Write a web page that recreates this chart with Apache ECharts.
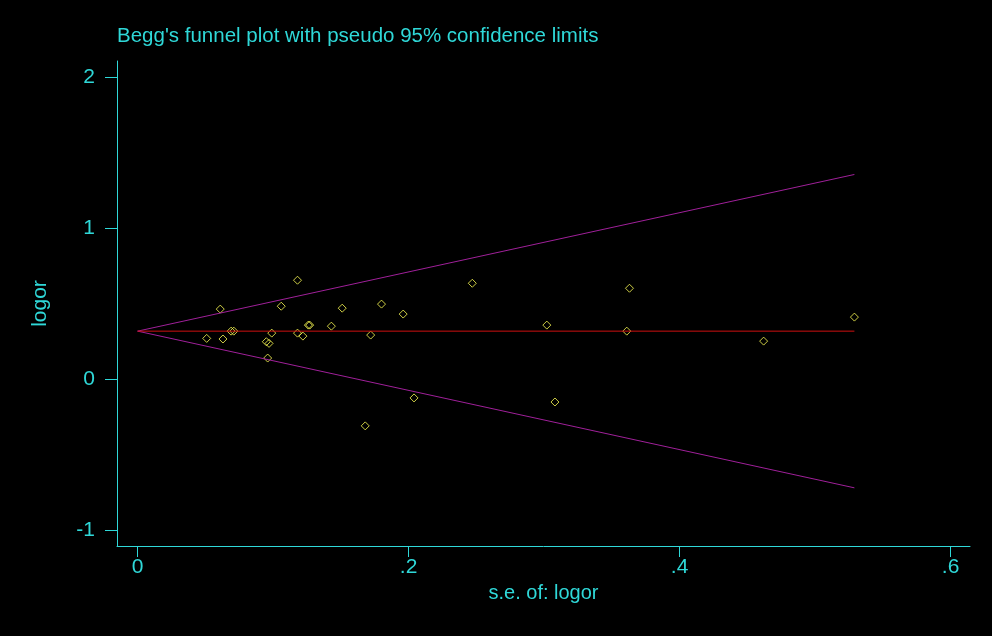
<!DOCTYPE html>
<html>
<head>
<meta charset="utf-8">
<script src="https://cdn.jsdelivr.net/npm/echarts@6/dist/echarts.min.js"></script>
<style>
html,body{margin:0;padding:0;background:#000;}
#chart{width:992px;height:636px;}
</style>
</head>
<body>
<div id="chart"></div>
<script>
// standard error of logor (x) and logor (y)
var seVals = [0.051, 0.061, 0.063, 0.069, 0.071, 0.095, 0.097, 0.096, 0.099, 0.106,
              0.118, 0.118, 0.122, 0.126, 0.127, 0.143, 0.151, 0.168, 0.172, 0.180,
              0.196, 0.204, 0.247, 0.302, 0.308, 0.361, 0.363, 0.462, 0.529];
var logorVals = [0.272, 0.466, 0.268, 0.320, 0.320, 0.250, 0.239, 0.142, 0.307, 0.485,
                 0.657, 0.307, 0.287, 0.360, 0.360, 0.353, 0.472, -0.307, 0.294, 0.499,
                 0.433, -0.122, 0.637, 0.360, -0.149, 0.320, 0.604, 0.254, 0.413];
// pooled estimate and pseudo 95% limits (end points)
var pooledX = [0, 0.529];
var pooledY = [0.32, 0.32];
var upperY = [0.32, 1.357];
var lowerY = [0.32, -0.717];
var xTicks = [0, 0.2, 0.4, 0.6];
var yTicks = [-1, 0, 1, 2];

var cyan = '#2fd8d8';
var dom = document.getElementById('chart');
var myChart = echarts.init(dom);

var pts = [];
for (var i = 0; i < seVals.length; i++) pts.push([seVals[i], logorVals[i]]);
function pair(xs, ys){ return [[xs[0], ys[0]], [xs[1], ys[1]]]; }

function fmt(v){
  if (v === 0) return '0';
  var s = String(Math.round(v * 10) / 10);
  return s.replace(/^0\./, '.').replace(/^-0\./, '-.');
}

var option = {
  backgroundColor: '#000',
  animation: false,
  title: {
    text: "Begg's funnel plot with pseudo 95% confidence limits",
    left: 112, top: 21,
    textStyle: { color: cyan, fontFamily: 'Arial, Liberation Sans', fontSize: 20.5, fontWeight: 'normal' }
  },
  grid: { left: 117, top: 61, right: 22, bottom: 90 },
  xAxis: {
    type: 'value', min: -0.0152, max: 0.6143,
    name: 's.e. of: logor', nameLocation: 'middle', nameGap: 37,
    nameTextStyle: { color: cyan, fontFamily: 'Arial, Liberation Sans', fontSize: 20 },
    axisLine: { onZero: false, lineStyle: { color: cyan, width: 1 } },
    axisTick: { show: true, length: 11, customValues: xTicks, lineStyle: { color: cyan } },
    axisLabel: { customValues: xTicks, formatter: fmt, color: cyan, fontFamily: 'Arial, Liberation Sans', fontSize: 21, margin: 11 },
    splitLine: { show: false }
  },
  yAxis: {
    type: 'value', min: -1.102, max: 2.108,
    name: 'logor', nameLocation: 'middle', nameGap: 66, nameRotate: 90,
    nameTextStyle: { color: cyan, fontFamily: 'Arial, Liberation Sans', fontSize: 21 },
    axisLine: { show: true, onZero: false, lineStyle: { color: cyan, width: 1 } },
    axisTick: { show: true, length: 12, customValues: yTicks, lineStyle: { color: cyan } },
    axisLabel: { customValues: yTicks, formatter: fmt, color: cyan, fontFamily: 'Arial, Liberation Sans', fontSize: 21, margin: 22 },
    splitLine: { show: false }
  },
  series: [
    { type: 'line', data: pair(pooledX, upperY), symbol: 'none', silent: true,
      lineStyle: { color: '#a0209a', width: 1 } },
    { type: 'line', data: pair(pooledX, lowerY), symbol: 'none', silent: true,
      lineStyle: { color: '#a0209a', width: 1 } },
    { type: 'line', data: pair(pooledX, pooledY), symbol: 'none', silent: true,
      lineStyle: { color: '#d01010', width: 1 } },
    { type: 'scatter', data: pts, symbol: 'diamond', symbolSize: [8, 8],
      itemStyle: { color: 'rgba(0,0,0,0)', borderColor: '#ffff55', borderWidth: 1 } }
  ]
};
myChart.setOption(option);
</script>
</body>
</html>
